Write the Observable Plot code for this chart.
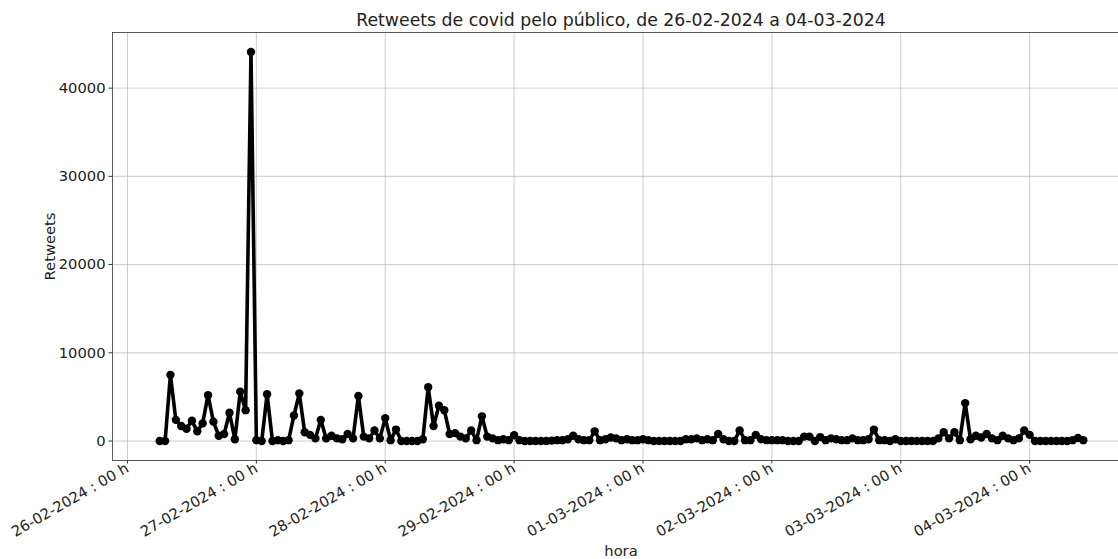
<!DOCTYPE html>
<html><head><meta charset="utf-8">
<script src="https://cdn.jsdelivr.net/npm/d3@7"></script>
<script src="https://cdn.jsdelivr.net/npm/@observablehq/plot@0.6"></script>
<style>html,body{margin:0;padding:0;background:#fff;overflow:hidden;width:1118px;height:559px}#chart svg{max-width:none!important}</style>
</head><body><div id="chart"></div>
<script>
const title = "Retweets de covid pelo público, de 26-02-2024 a 04-03-2024";
const yLabel = "Retweets";
const xLabel = "hora";
const firstHour = "2024-02-26T06:00:00Z";
// hourly retweets, one array per day
const day_26_02 = [0,0,7500,2400,1700,1400,2300,1100,2000,5200,2200,600,800,3200,200,5600,3500,44100]; // 06h..23h
const day_27_02 = [100,0,5300,0,100,0,100,2900,5400,1000,700,300,2400,300,600,300,200,800,300,5100,500,300,1200,300];
const day_28_02 = [2600,100,1300,0,0,0,0,200,6100,1700,4000,3500,800,900,500,300,1200,100,2800,500,300,100,200,100];
const day_29_02 = [650,100,0,0,0,0,0,50,100,100,200,600,200,100,100,1100,100,200,400,300,100,200,100,100];
const day_01_03 = [200,100,0,0,0,0,0,0,200,200,300,100,200,100,800,200,0,0,1200,100,100,700,200,100];
const day_02_03 = [100,100,100,0,0,0,500,500,0,450,100,300,200,100,100,300,100,100,200,1300,100,100,0,200];
const day_03_03 = [0,0,0,0,0,0,0,300,1000,300,1000,100,4300,200,600,400,800,300,100,600,300,100,300,1200];
const day_04_03 = [700,0,0,0,0,0,0,0,100,350,100]; // 00h..10h
const dayTicks = ["2024-02-26","2024-02-27","2024-02-28","2024-02-29","2024-03-01","2024-03-02","2024-03-03","2024-03-04"];
const yTicks = [0,10000,20000,30000,40000];

const values = [...day_26_02,...day_27_02,...day_28_02,...day_29_02,...day_01_03,...day_02_03,...day_03_03,...day_04_03];
const H = 3600e3;
const t0 = new Date(firstHour).getTime();
const data = values.map((v,i)=>({t:new Date(t0 + i*H), v}));
const ticks = dayTicks.map(d=>new Date(d+"T00:00:00Z"));
const base = ticks[0].getTime();
const xDomain = [new Date(base - 2.79*H), new Date(base + 186.6*H)];
const yMax = d3.max(values);
const yDomain = [-0.05*yMax, yMax*1.05];
const pad = n=>String(n).padStart(2,"0");
const fmt = d=>`${pad(d.getUTCDate())}-${pad(d.getUTCMonth()+1)}-${d.getUTCFullYear()} : 00 h`;

const chart = Plot.plot({
  width:1130, height:559, marginLeft:112, marginRight:1, marginTop:32, marginBottom:99,
  style:{fontFamily:"DejaVu Sans", fontSize:"14.7px", color:"#222", background:"#fff", maxWidth:"none"},
  x:{type:"utc", domain:xDomain},
  y:{domain:yDomain},
  marks:[
    Plot.gridX(ticks,{stroke:"#b0b0b0", strokeOpacity:0.8, strokeWidth:0.8}),
    Plot.gridY(yTicks,{stroke:"#b0b0b0", strokeOpacity:0.8, strokeWidth:0.8}),
    Plot.axisY(yTicks,{tickSize:3.5, tickPadding:3.5, fontSize:14.7, tickFormat:d=>String(d), label:null, stroke:"#333"}),
    Plot.axisX(ticks,{tickSize:3.5, tickPadding:3, tickRotate:-30, fontSize:14.7, tickFormat:fmt, label:null, stroke:"#333"}),
    Plot.frame({stroke:"#333", strokeWidth:0.8}),
    Plot.line(data,{x:"t", y:"v", stroke:"black", strokeWidth:3.6}),
    Plot.dot(data,{x:"t", y:"v", fill:"black", r:4.2}),
    Plot.text([title],{frameAnchor:"top", dy:-12, lineAnchor:"middle", textAnchor:"middle", fontSize:17.3, fill:"#222"}),
    Plot.text([yLabel],{frameAnchor:"left", dx:-62, rotate:-90, lineAnchor:"middle", textAnchor:"middle", fontSize:14.7, fill:"#222"}),
    Plot.text([xLabel],{frameAnchor:"bottom", dy:91, lineAnchor:"middle", textAnchor:"middle", fontSize:14.7, fill:"#222"})
  ]
});
chart.style.maxWidth = "none";
document.getElementById("chart").appendChild(chart);
</script>
</body></html>
